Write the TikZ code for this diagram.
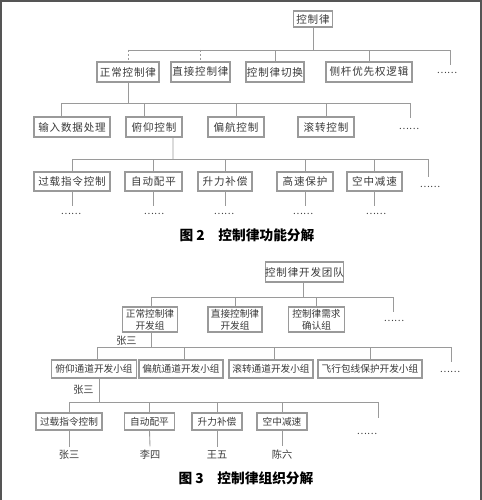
\documentclass[tikz,border=0pt]{standalone}
\usepackage{fontspec}
\usepackage{xcolor}
\usepackage{tikz}
\usetikzlibrary{positioning}
\newfontfamily\cjk{Noto Sans CJK SC}
\newfontfamily\cjkwide[LetterSpace=8]{Noto Sans CJK SC}
\definecolor{inkgray}{HTML}{3a3a3a}
\definecolor{linegray}{HTML}{9a9a9a}
\definecolor{framegray}{HTML}{555555}

\begin{document}
\begin{tikzpicture}[x=0.02cm, y=-0.02cm,
    box/.style={rectangle, draw=linegray, line width=0.6pt, inner sep=0pt,
                text=inkgray, align=center, font=\cjkwide\fontsize{6}{7}\selectfont},
    gbox/.style={box, font=\cjk\fontsize{5.5}{7}\selectfont},
    size/.style 2 args={minimum width=#1*0.02cm, minimum height=#2*0.02cm},
    link/.style={draw=linegray, line width=0.5pt},
    more/.style={text=inkgray, inner sep=0pt, anchor=base, font=\cjk\fontsize{5.4}{6}\selectfont},
    who/.style={text=inkgray, inner sep=0pt, font=\cjk\fontsize{5.8}{7}\selectfont},
    caption/.style={text=black, inner sep=0pt, font=\cjk\bfseries\fontsize{7.8}{9}\selectfont},
]
\useasboundingbox (0,0) rectangle (482,500);
\fill[white] (0,0) rectangle (482,500);
\draw[framegray, line width=1.1pt] (0.6,500) -- (0.6,0.6) -- (481.4,0.6) -- (481.4,500);

% Figure 2: function breakdown
\node[box, size={39}{16}] (law) at (313,19) {控制律};

\node[box, size={62}{20}] (normal) at (128,72) {正常控制律};
\node[box, size={59}{20}] (direct) at (200.5,72) {直接控制律};
\node[box, size={58}{20}] (switch) at (275,72) {控制律切换};
\node[box, size={86}{20}] (side) at (369,72) {侧杆优先权逻辑};
\node[more] (more1) at (447,73) {……};

\node[box, size={76}{20}] (input) at (72,127) {输入数据处理};
\node[box, size={56}{20}] (pitch) at (154,127) {俯仰控制};
\node[box, size={56}{20}] (yaw) at (236,127) {偏航控制};
\node[box, size={56}{20}] (roll) at (326,127) {滚转控制};
\node[more] (more2) at (409,130) {……};

\node[box, size={76}{19}] (overload) at (72,181.5) {过载指令控制};
\node[box, size={57}{19}] (trim) at (153.5,181.5) {自动配平};
\node[box, size={54}{19}] (lift) at (225,181.5) {升力补偿};
\node[box, size={56}{19}] (highspeed) at (305,181.5) {高速保护};
\node[box, size={55}{19}] (airbrake) at (374.5,181.5) {空中减速};
\node[more] (more3) at (430,187) {……};

\foreach \n/\x in {overload/71, trim/154, lift/224, highspeed/303, airbrake/376}
    \node[more] (\n-sub) at (\x,214) {……};

\node[caption] (cap2) at (247,235) {图 2\quad 控制律功能分解};

% bus points
\coordinate (b1) at (313,50);
\coordinate (e1) at (450,65);
\coordinate (b2) at (128,103);
\coordinate (e2) at (410,118);
\coordinate (b3) at (173,159);
\coordinate (e3) at (428,177);

\draw[link] (law) -- (b1);
\foreach \c in {switch, side}
    \draw[link] (b1) -| (\c.north);
\draw[link] (b1) -| (e1);
\draw[link] (b1) -| (200.5,50);
\draw[link] (b1) -| (128,50);
\draw[link, dash pattern=on 1.2pt off 1pt] (128,50) -- (normal.north);
\draw[link, dash pattern=on 1.2pt off 1pt] (200.5,50) -- (direct.north);

\draw[link] (normal) -- (b2);
\draw[link] (b2) -| ([xshift=-6.2pt]input.north);
\draw[link] (b2) -| ([xshift=-5.7pt]pitch.north);
\foreach \c in {yaw, roll}
    \draw[link] (b2) -| (\c.north);
\draw[link] (b2) -| (e2);

\draw[link] ([xshift=10.8pt]pitch.south) -- (b3);
\foreach \c in {overload, trim, lift, highspeed, airbrake}
    \draw[link] (b3) -| (\c.north);
\draw[link] (b3) -| (e3);
\foreach \c in {overload, trim, lift, highspeed, airbrake}
    \draw[link] (\c.south) -- ++(0,14);

% Figure 3: team breakdown
\node[box, size={77}{20}] (team) at (304.5,272) {控制律开发团队};

\node[gbox, size={55}{25}] (ngroup) at (150,319.5) {正常控制律\\开发组};
\node[gbox, size={54}{25}] (dgroup) at (235,319.5) {直接控制律\\开发组};
\node[gbox, size={56}{25}] (rgroup) at (316.5,319.5) {控制律需求\\确认组};
\node[more] (more4) at (394,321) {……};
\node[who, anchor=east] (lead1) at (137,341) {张三};

\node[gbox, size={85}{18}] (pgroup) at (94,369) {俯仰通道开发小组};
\node[gbox, size={84}{18}] (ygroup) at (181,369) {偏航通道开发小组};
\node[gbox, size={84}{18}] (rogroup) at (271,369) {滚转通道开发小组};
\node[gbox, size={104}{18}] (egroup) at (370,369) {飞行包线保护开发小组};
\node[more] (more5) at (450,372) {……};
\node[who, anchor=east] (lead2) at (94,390) {张三};

\node[gbox, size={66}{17}] (overload2) at (69,421.5) {过载指令控制};
\node[gbox, size={50}{17}] (trim2) at (149.5,421.5) {自动配平};
\node[gbox, size={50}{17}] (lift2) at (217,421.5) {升力补偿};
\node[gbox, size={50}{17}] (airbrake2) at (282,421.5) {空中减速};
\node[more] (more6) at (367,434) {……};

\node[who] (p1) at (69,455) {张三};
\node[who] (p2) at (150,455) {李四};
\node[who] (p3) at (217,455) {王五};
\node[who] (p4) at (282,455) {陈六};

\node[caption] (cap3) at (246,478) {图 3\quad 控制律组织分解};

\coordinate (b4) at (303,297);
\coordinate (e4) at (393,312);
\coordinate (b5) at (151,347);
\coordinate (e5) at (451,362);
\coordinate (b6) at (99,402);
\coordinate (e6) at (378,418);

\draw[link] (team.south -| b4) -- (b4);
\foreach \c in {dgroup, rgroup}
    \draw[link] (b4) -| (\c.north);
\draw[link] (b4) -| (ngroup.north -| b5);
\draw[link] (b4) -| (e4);

\draw[link] (ngroup.south -| b5) -- (b5);
\foreach \c in {ygroup, rogroup}
    \draw[link] (b5) -| ([xshift=1.7pt]\c.north);
\draw[link] (b5) -| (pgroup.north -| 97,0);
\draw[link] (b5) -| (egroup.north);
\draw[link] (b5) -| (e5);

\draw[link] (pgroup.south -| b6) -- (b6);
\foreach \c in {overload2, trim2, lift2, airbrake2}
    \draw[link] (b6) -| (\c.north);
\draw[link] (b6) -| (e6);
\foreach \c/\p in {overload2/p1, trim2/p2, lift2/p3, airbrake2/p4}
    \draw[link] (\c.south) -- ([yshift=2pt]\p.north);
\end{tikzpicture}
\end{document}
